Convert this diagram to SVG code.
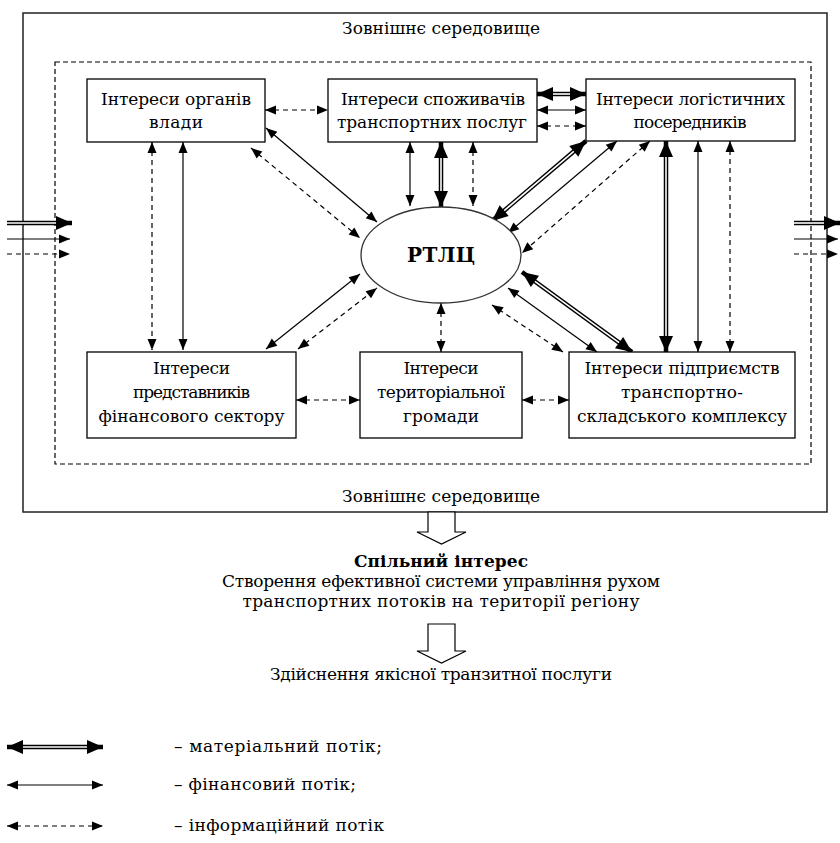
<svg xmlns="http://www.w3.org/2000/svg" width="840" height="843" viewBox="0 0 840 843" font-family="'DejaVu Serif', serif">
<defs>
<marker id="ah" markerUnits="userSpaceOnUse" markerWidth="12" markerHeight="10" refX="11" refY="4.5" orient="auto-start-reverse" overflow="visible"><path d="M0,0 L11,4.5 L0,9 z" fill="#000"/></marker>
<marker id="ahb" markerUnits="userSpaceOnUse" markerWidth="18" markerHeight="15" refX="16" refY="7" orient="auto-start-reverse" overflow="visible"><path d="M0,0 L16,7 L0,14 z" fill="#000"/></marker>
</defs>
<style>
text{font-family:'DejaVu Serif',serif;font-size:17px;fill:#000}
.c{text-anchor:middle}
.b{font-weight:bold}
.box{fill:#fff;stroke:#000;stroke-width:1.3}
.s{stroke:#000;stroke-width:1.2;fill:none;marker-start:url(#ah);marker-end:url(#ah)}
.d{stroke:#000;stroke-width:1.2;fill:none;stroke-dasharray:5,4;marker-start:url(#ah);marker-end:url(#ah)}
.m{stroke:#000;stroke-width:4.5;fill:none;marker-start:url(#ahb);marker-end:url(#ahb)}
.w{stroke:#fff;stroke-width:1.6;fill:none}
.se{stroke:#000;stroke-width:1.2;fill:none;marker-end:url(#ah)}
.de{stroke:#000;stroke-width:1.2;fill:none;stroke-dasharray:5,4;marker-end:url(#ah)}
.me{stroke:#000;stroke-width:4.5;fill:none;marker-end:url(#ahb)}
.hollow{fill:#fff;stroke:#000;stroke-width:1.2}
</style>
<rect width="840" height="843" fill="#fff"/>

<g id="environment">
<rect x="23" y="13" width="804" height="499" fill="none" stroke="#222" stroke-width="1.5"/>
<rect x="55" y="62" width="756" height="402" fill="none" stroke="#000" stroke-width="1.2" stroke-dasharray="5,3"/>
<text class="c" x="441" y="34" textLength="198" lengthAdjust="spacing">Зовнішнє середовище</text>
<text class="c" x="441" y="502" textLength="198" lengthAdjust="spacing">Зовнішнє середовище</text>
</g>

<g id="connectors">
<line class="d" x1="265" y1="110" x2="328" y2="110"/>
<line class="m" x1="537" y1="94" x2="586" y2="94"/><line class="w" x1="553" y1="94" x2="570" y2="94"/>
<line class="s" x1="537" y1="110" x2="586" y2="110"/>
<line class="d" x1="537" y1="126" x2="586" y2="126"/>
<line class="s" x1="266" y1="128" x2="377" y2="222"/>
<line class="d" x1="251" y1="148" x2="360" y2="238"/>
<line class="d" x1="152" y1="142" x2="152" y2="350"/>
<line class="s" x1="183" y1="142" x2="183" y2="350"/>
<line class="s" x1="410" y1="142" x2="410" y2="206"/>
<line class="m" x1="441" y1="142" x2="441" y2="207"/><line class="w" x1="441" y1="158" x2="441" y2="191"/>
<line class="d" x1="473" y1="142" x2="473" y2="206"/>
<line class="m" x1="586" y1="141" x2="492" y2="221"/><line class="w" x1="573.8" y1="151.4" x2="504.2" y2="210.6"/>
<line class="s" x1="617" y1="141" x2="508" y2="233"/>
<line class="d" x1="650" y1="141" x2="522" y2="253"/>
<line class="m" x1="666" y1="141" x2="666" y2="352"/><line class="w" x1="666" y1="157" x2="666" y2="336"/>
<line class="s" x1="698" y1="141" x2="698" y2="352"/>
<line class="d" x1="730" y1="141" x2="730" y2="352"/>
<line class="s" x1="266" y1="349" x2="360" y2="274"/>
<line class="d" x1="298" y1="349" x2="377" y2="288"/>
<line class="d" x1="441" y1="303" x2="441" y2="352"/>
<line class="m" x1="632" y1="352" x2="522" y2="272"/><line class="w" x1="619.1" y1="342.6" x2="534.9" y2="281.4"/>
<line class="s" x1="597" y1="352" x2="508" y2="288"/>
<line class="d" x1="563" y1="352" x2="492" y2="305"/>
<line class="d" x1="296" y1="400" x2="360" y2="400"/>
<line class="d" x1="522" y1="400" x2="569" y2="400"/>
<line class="me" x1="7" y1="223" x2="72" y2="223"/><line class="w" x1="6" y1="223" x2="56" y2="223"/>
<line class="se" x1="7" y1="239" x2="70" y2="239"/>
<line class="de" x1="7" y1="254" x2="70" y2="254"/>
<line class="me" x1="794" y1="223" x2="840" y2="223"/><line class="w" x1="793" y1="223" x2="824" y2="223"/>
<line class="se" x1="794" y1="239" x2="838" y2="239"/>
<line class="de" x1="794" y1="254" x2="838" y2="254"/>
</g>

<g id="box1">
<rect class="box" x="87" y="79" width="178" height="63"/>
<text class="c" x="176" y="105" textLength="150" lengthAdjust="spacing">Інтереси органів</text>
<text class="c" x="176" y="128" textLength="54" lengthAdjust="spacing">влади</text>
</g>
<g id="box2">
<rect class="box" x="328" y="79" width="209" height="63"/>
<text class="c" x="433" y="105" textLength="184" lengthAdjust="spacing">Інтереси споживачів</text>
<text class="c" x="432" y="128" textLength="190" lengthAdjust="spacing">транспортних послуг</text>
</g>
<g id="box3">
<rect class="box" x="586" y="79" width="209" height="62"/>
<text class="c" x="690.5" y="105" textLength="189" lengthAdjust="spacing">Інтереси логістичних</text>
<text class="c" x="690" y="128" textLength="113" lengthAdjust="spacing">посередників</text>
</g>
<g id="rtlc">
<ellipse cx="441" cy="255" rx="80" ry="48" fill="#fff" stroke="#333" stroke-width="1.3"/>
<text class="c b" x="441" y="262" style="font-size:20px" textLength="68" lengthAdjust="spacing">РТЛЦ</text>
</g>
<g id="box4">
<rect class="box" x="87" y="352" width="209" height="86"/>
<text class="c" x="191.5" y="374" textLength="77" lengthAdjust="spacing">Інтереси</text>
<text class="c" x="191.5" y="398" textLength="117" lengthAdjust="spacing">представників</text>
<text class="c" x="191.5" y="422" textLength="186" lengthAdjust="spacing">фінансового сектору</text>
</g>
<g id="box5">
<rect class="box" x="360" y="352" width="162" height="86"/>
<text class="c" x="441" y="374" textLength="75" lengthAdjust="spacing">Інтереси</text>
<text class="c" x="441" y="398" textLength="128" lengthAdjust="spacing">територіальної</text>
<text class="c" x="441" y="422" textLength="76" lengthAdjust="spacing">громади</text>
</g>
<g id="box6">
<rect class="box" x="569" y="352" width="226" height="86"/>
<text class="c" x="682" y="374" textLength="195" lengthAdjust="spacing">Інтереси підприємств</text>
<text class="c" x="682" y="398" textLength="122" lengthAdjust="spacing">транспортно-</text>
<text class="c" x="682" y="422" textLength="210" lengthAdjust="spacing">складського комплексу</text>
</g>

<g id="result">
<path class="hollow" d="M428,512 L455,512 L455,532 L466,532 L441.5,544 L417,532 L428,532 Z"/>
<text class="c b" x="441" y="567" textLength="174" lengthAdjust="spacing">Спільний інтерес</text>
<text class="c" x="441" y="587" textLength="438" lengthAdjust="spacing">Створення ефективної системи управління рухом</text>
<text class="c" x="441" y="607" textLength="397" lengthAdjust="spacing">транспортних потоків на території регіону</text>
<path class="hollow" d="M428,624 L455,624 L455,651 L466,651 L441.5,663 L417,651 L428,651 Z"/>
<text class="c" x="441" y="680" textLength="342" lengthAdjust="spacing">Здійснення якісної транзитної послуги</text>
</g>

<g id="legend">
<line class="m" x1="7" y1="747" x2="103" y2="747"/><line class="w" x1="23" y1="747" x2="87" y2="747"/>
<line class="s" x1="7" y1="785" x2="103" y2="785"/>
<line class="d" x1="7" y1="826" x2="103" y2="826"/>
<text x="174" y="752" textLength="208" lengthAdjust="spacing">– матеріальний потік;</text>
<text x="174" y="790" textLength="182" lengthAdjust="spacing">– фінансовий потік;</text>
<text x="174" y="831" textLength="210" lengthAdjust="spacing">– інформаційний потік</text>
</g>
</svg>
